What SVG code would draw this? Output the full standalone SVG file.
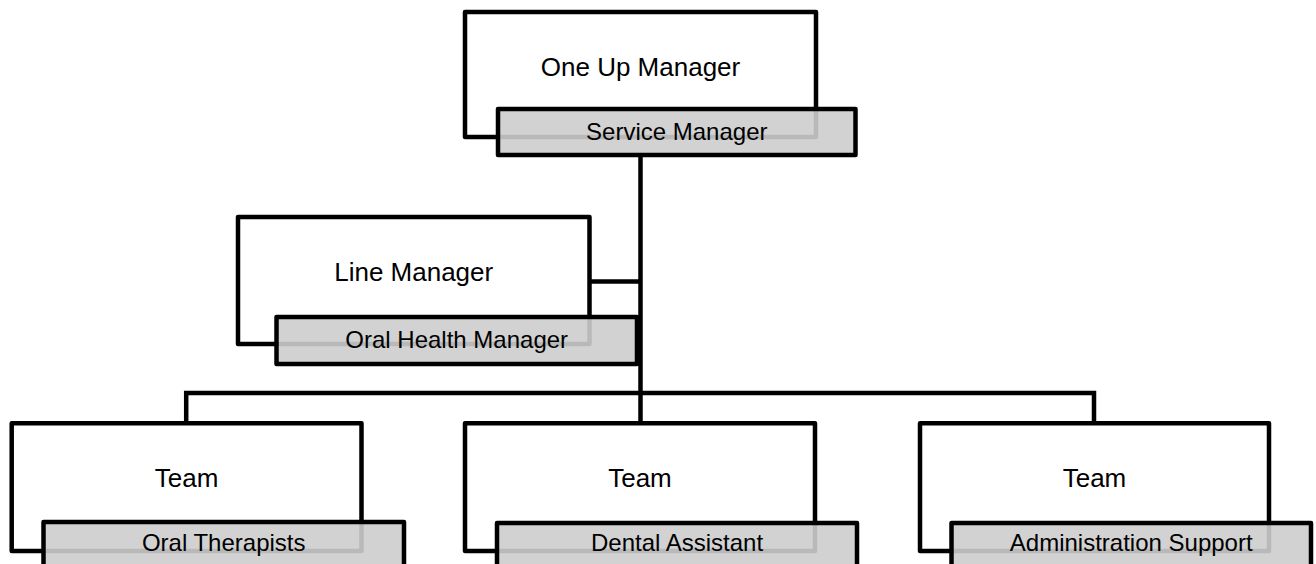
<svg xmlns="http://www.w3.org/2000/svg" width="1316" height="564" viewBox="0 0 1316 564">
  <style>
    .frame { fill: #ffffff; stroke: #000000; stroke-width: 4.5; stroke-linejoin: round; }
    .role { fill: #cdcdcd; fill-opacity: 0.9; stroke: #000000; stroke-width: 4.5; stroke-linejoin: round; }
    .wire { fill: none; stroke: #000000; stroke-width: 4.5; stroke-linejoin: miter; }
    .title { font-family: "Liberation Sans", Arial, sans-serif; font-size: 26px; fill: #000000; text-anchor: middle; }
    .sub { font-family: "Liberation Sans", Arial, sans-serif; font-size: 24px; fill: #000000; text-anchor: middle; }
  </style>
  <rect width="1316" height="564" fill="#ffffff"/>

  <!-- connectors -->
  <g id="connectors">
    <path class="wire" d="M640.5,155 V424"/>
    <path class="wire" d="M589.5,281.5 H640.5"/>
    <path class="wire" d="M186.2,424 V393 H1094 V424"/>
  </g>

  <!-- top manager -->
  <g id="one-up-manager">
    <rect class="frame" x="465" y="12" width="351" height="125"/>
    <text class="title" x="640.5" y="76">One Up Manager</text>
    <rect class="role" x="498" y="109" width="357.5" height="46"/>
    <text class="sub" x="676.8" y="139.5">Service Manager</text>
  </g>

  <!-- line manager -->
  <g id="line-manager">
    <rect class="frame" x="238" y="217" width="351.5" height="127"/>
    <text class="title" x="413.7" y="281">Line Manager</text>
    <rect class="role" x="276.5" y="317" width="360.5" height="47"/>
    <text class="sub" x="456.7" y="348">Oral Health Manager</text>
  </g>

  <!-- teams -->
  <g id="team-oral-therapists">
    <rect class="frame" x="11.7" y="423.3" width="349.8" height="127.7"/>
    <text class="title" x="186.6" y="487">Team</text>
    <rect class="role" x="43.5" y="522" width="360.5" height="60"/>
    <text class="sub" x="223.7" y="550.5">Oral Therapists</text>
  </g>

  <g id="team-dental-assistant">
    <rect class="frame" x="465" y="423.3" width="350" height="127.7"/>
    <text class="title" x="640" y="487">Team</text>
    <rect class="role" x="497" y="523" width="360" height="60"/>
    <text class="sub" x="677" y="550.5">Dental Assistant</text>
  </g>

  <g id="team-administration-support">
    <rect class="frame" x="920" y="423.3" width="349" height="127.7"/>
    <text class="title" x="1094.5" y="487">Team</text>
    <rect class="role" x="951.5" y="523" width="359.5" height="60"/>
    <text class="sub" x="1131.2" y="550.5">Administration Support</text>
  </g>
</svg>
